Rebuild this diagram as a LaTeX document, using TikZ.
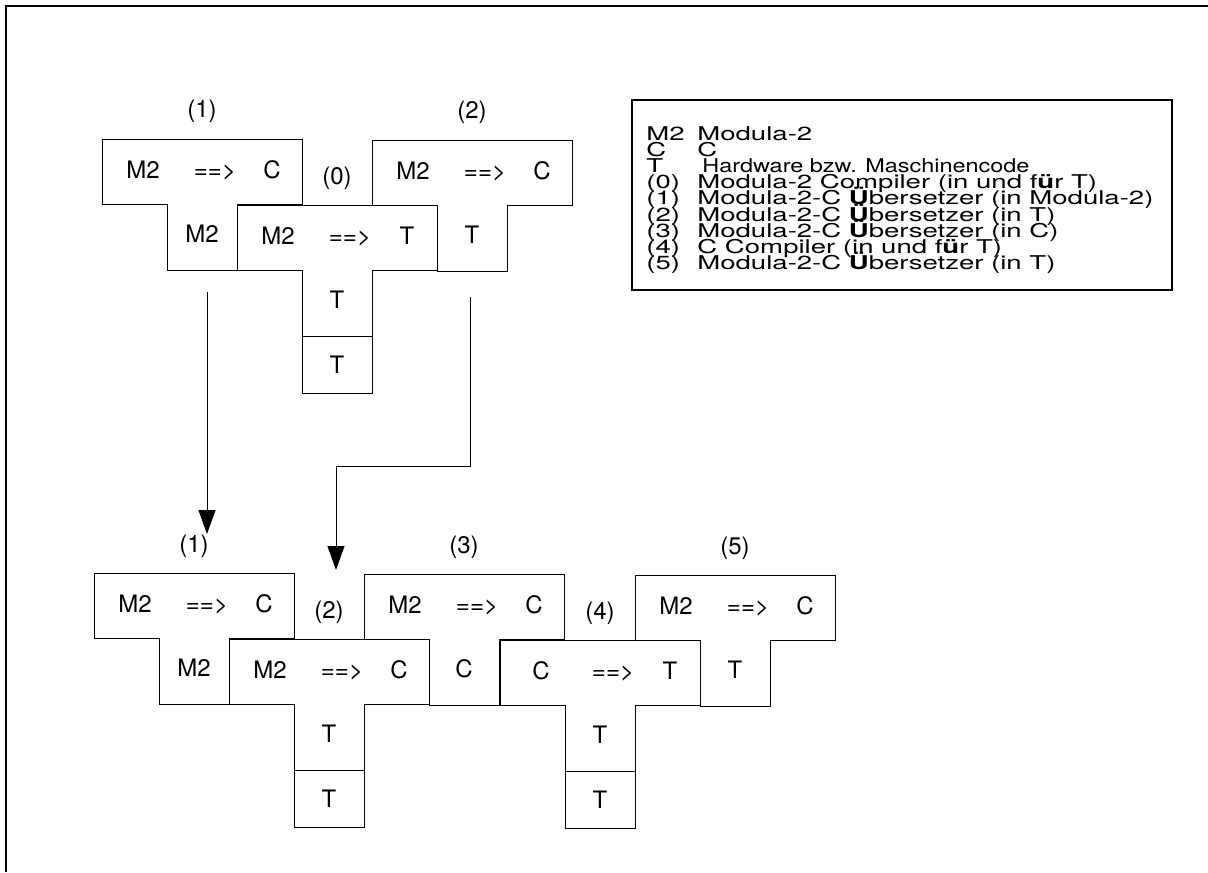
\documentclass[tikz,border=0pt]{standalone}
\usepackage{fontspec}
\setmainfont{TeX Gyre Heros}
\newfontfamily\legendfont[FakeStretch=1.45]{TeX Gyre Heros}
\usetikzlibrary{arrows.meta}
\tikzstyle{tshape} = [draw, line width=0.5pt]
\tikzstyle{txt} = [anchor=base, inner sep=0pt, font=\fontsize{12}{14}\selectfont]
\tikzstyle{legtxt} = [anchor=base west, inner sep=0pt, text height=6pt, text depth=1pt, font=\legendfont\fontsize{9.5}{11}\selectfont]
\tikzstyle{flow} = [-{Triangle[length=12pt,width=8.5pt]}, line width=0.5pt]
% T-diagram: name, x, y, number, source, target, implementation
\newcommand{\tdiagram}[7]{%
	\begin{scope}[shift={(#2,#3)}]
		\draw[tshape] (0,0) -- (200,0) -- (200,65) -- (135,65) -- (135,131) -- (65,131) -- (65,65) -- (0,65) -- cycle;
		\node[txt] (#1-no) at (100,-21) {#4};
		\node[txt] (#1-src) at (41,39) {#5};
		\node[txt] (#1-to) at (113,39) {==>};
		\node[txt] (#1-tgt) at (170,39) {#6};
		\node[txt] (#1-impl) at (100,103) {#7};
	\end{scope}}
% machine below a T-diagram
\newcommand{\hwbox}[3]{%
	\begin{scope}[shift={(#2,#3)}]
		\draw[tshape] (65,131) rectangle (135,188);
		\node[txt] (#1-hw) at (100,168) {T};
	\end{scope}}
\begin{document}
\begin{tikzpicture}[x=0.5pt, y=-0.5pt]
			\useasboundingbox (0,0) rectangle (1208,872);
			\draw[line width=1.2pt] (1208,6) -- (6,6) -- (6,872);
			
			% upper row
			\tdiagram{tA}{102}{139}{(1)}{M2}{C}{M2}
			\tdiagram{tB}{372}{140}{(2)}{M2}{C}{T}
			\tdiagram{tO}{237}{205}{(0)}{M2}{T}{T}
			\hwbox{tO}{237}{205}
			
			% lower row
			\tdiagram{bA}{94}{573}{(1)}{M2}{C}{M2}
			\tdiagram{bC}{364}{574}{(3)}{M2}{C}{C}
			\tdiagram{bE}{635}{575}{(5)}{M2}{C}{T}
			\tdiagram{bB}{229}{639}{(2)}{M2}{C}{T}
			\hwbox{bB}{229}{639}
			\tdiagram{bD}{500}{640}{(4)}{C}{T}{T}
			\hwbox{bD}{500}{640}
			
			% connectors
			\coordinate (a1s) at (207,292);
			\coordinate (a1e) at (207,534);
			\draw[flow] (a1s) -- (a1e);
			\coordinate (a2s) at (470,297);
			\coordinate (a2k) at (470,466);
			\coordinate (a2e) at (336,570);
			\draw[flow] (a2s) -- (a2k) -| (a2e);
			
			% legend
			\draw[line width=0.6pt] (632,100) rectangle (1172,290);
			\foreach \key/\desc [count=\i from 0] in {{M2}/{Modula-2}, {C}/{C}, {T}/{\hspace{2.5pt}\scalebox{0.85}[1]{Hardware bzw. Maschinencode}}, {(0)}/{Modula-2 Compiler (in und f\textbf{ü}r T)}, {(1)}/{Modula-2-C \textbf{Ü}bersetzer (in Modula-2)}, {(2)}/{Modula-2-C \textbf{Ü}bersetzer (in T)}, {(3)}/{Modula-2-C \textbf{Ü}bersetzer (in C)}, {(4)}/{C Compiler (in und f\textbf{ü}r T)}, {(5)}/{Modula-2-C \textbf{Ü}bersetzer (in T)}}
			{
				\node[legtxt] (key\i) at (646,140.5+16.1*\i) {\key};
				\node[legtxt] (desc\i) at (697,140.5+16.1*\i) {\desc};
			}
		\end{tikzpicture}
\end{document}
